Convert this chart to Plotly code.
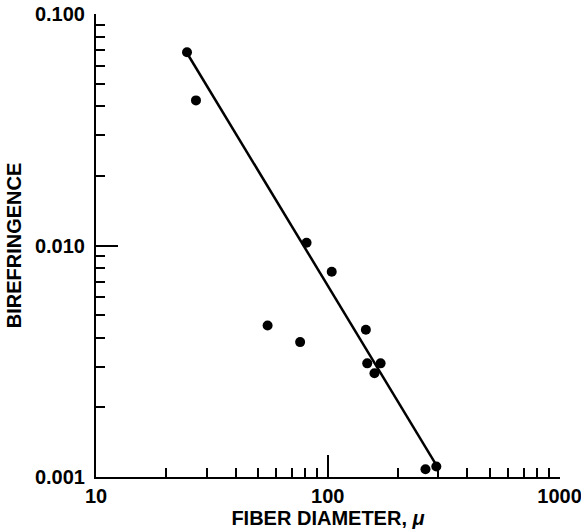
import plotly.graph_objects as go

# Data
diameter = [24.7, 27.0, 81, 104, 55, 76, 146, 148, 169, 159, 264, 294]
birefringence = [0.0686, 0.0425, 0.0103, 0.00772, 0.00452, 0.00383, 0.00433,
                 0.00310, 0.00310, 0.00281, 0.00108, 0.00111]

fit_diameter = [24.5, 295]
fit_birefringence = [0.069, 0.00112]

x_tickvals = [10, 100, 1000]
x_ticktext = ["10", "100", "1000"]
y_tickvals = [0.001, 0.01, 0.1]
y_ticktext = ["0.001", "0.010", "0.100"]

x_minor = [m * d for d in (10, 100) for m in range(2, 10)]
y_minor = [m * d for d in (0.001, 0.01) for m in range(2, 10)]

font = "Liberation Sans, Arial, Helvetica, sans-serif"

fig = go.Figure()
fig.add_trace(go.Scatter(
    x=fit_diameter, y=fit_birefringence, mode="lines",
    line=dict(color="black", width=2.5), showlegend=False, hoverinfo="skip"))
fig.add_trace(go.Scatter(
    x=diameter, y=birefringence, mode="markers",
    marker=dict(color="black", size=10), showlegend=False))

axis_common = dict(
    showgrid=False, zeroline=False, showline=True, linecolor="black",
    linewidth=2, ticks="inside", tickcolor="black", tickwidth=2, ticklen=22,
    tickfont=dict(family=font, size=20, color="black", weight="bold"),
    mirror=False, automargin=False, ticklabeloverflow="allow",
)

fig.update_layout(
    width=581, height=532,
    margin=dict(l=96, r=21, t=14, b=55, autoexpand=False),
    paper_bgcolor="white", plot_bgcolor="white",
    font=dict(family=font, color="black"),
    xaxis=dict(
        type="log", range=[1, 3.002], tickmode="array",
        tickvals=x_tickvals, ticktext=x_ticktext,
        minor=dict(tickvals=x_minor, ticks="inside", ticklen=9,
                   tickwidth=2, tickcolor="black", showgrid=False),
        title=dict(text="FIBER DIAMETER, <i>μ</i>", standoff=5,
                   font=dict(family=font, size=20, color="black", weight="bold")),
        **axis_common,
    ),
    yaxis=dict(
        type="log", range=[-3, -0.998], tickmode="array",
        tickvals=y_tickvals, ticktext=y_ticktext, ticklabelstandoff=5,
        minor=dict(tickvals=y_minor, ticks="inside", ticklen=9,
                   tickwidth=2, tickcolor="black", showgrid=False),
        title=dict(text="BIREFRINGENCE", standoff=8,
                   font=dict(family=font, size=20, color="black", weight="bold")),
        **axis_common,
    ),
)

# Remove the default page margin so the figure sits at the window's corner.
fig.write_html("out.html",
               config={"displayModeBar": False},
               post_script="document.body.style.margin='0px';"
                           "document.body.style.overflow='hidden';")
